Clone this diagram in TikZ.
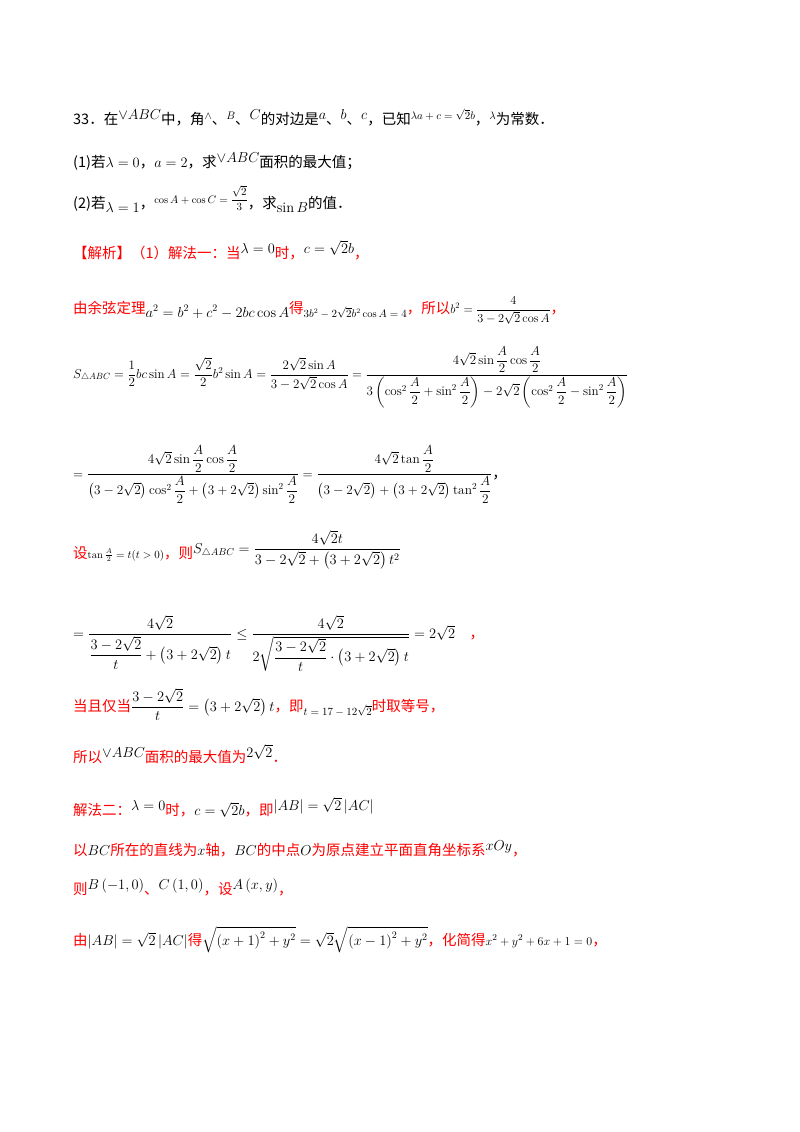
\documentclass[tikz,border=0pt]{standalone}
\usepackage{amsmath}
\usepackage{fontspec}
\newfontfamily\cjk{Noto Sans CJK SC}
\newcommand{\mm}[1]{{\color{black}$#1$}}
\newcommand{\sm}[1]{{\color{black}\fontsize{10.5}{12}\selectfont$#1$}}
\newcommand{\up}[1]{\raisebox{5pt}{#1}}
\newcommand{\dn}[1]{\raisebox{-4pt}{#1}}
\definecolor{rd}{RGB}{255,0,0}
\begin{document}
\begin{tikzpicture}[x=1pt,y=-1pt,
 t/.style={anchor=base west,inner sep=0pt,font=\cjk\fontsize{14.5}{17}\selectfont},
 r/.style={t,text=rd}]
\useasboundingbox (0,0) rectangle (800,1132);
\node[t] (l1) at (73,124) {33．在\up{\mm{\vee ABC}}中，角\up{\sm{\wedge}}、\up{\sm{B}}、\up{\mm{C}}的对边是\up{\mm{a}}、\up{\mm{b}}、\up{\mm{c}}，已知\up{\sm{\lambda a+c=\sqrt{2}b}}，\up{\sm{\lambda}}为常数．};
\node[t] (l2) at (73,167) {(1)若\mm{\lambda=0}，\mm{a=2}，求\up{\mm{\vee ABC}}面积的最大值；};
\node[t] (l3) at (73,208) {(2)若\dn{\mm{\lambda=1}}，\up{\sm{\cos A+\cos C=\dfrac{\sqrt{2}}{3}}}，求\dn{\mm{\sin B}}的值．};
\node[r] (l4) at (73,258) {【解析】（1）解法一：当\up{\mm{\lambda=0}}时，\up{\mm{c=\sqrt{2}b}}，};
\node[r] (l5) at (73,313) {由余弦定理\dn{\mm{a^2=b^2+c^2-2bc\cos A}}得\dn{\sm{3b^2-2\sqrt{2}b^2\cos A=4}}，所以\scalebox{0.85}{\mm{b^2=\dfrac{4}{3-2\sqrt{2}\cos A}}}，};
\node[t] (l6) at (73,378) {\scalebox{0.9}{\mm{S_{\triangle ABC}=\dfrac12 bc\sin A=\dfrac{\sqrt2}{2}b^2\sin A=\dfrac{2\sqrt2\sin A}{3-2\sqrt2\cos A}=\dfrac{4\sqrt2\sin\dfrac A2\cos\dfrac A2}{3\left(\cos^2\dfrac A2+\sin^2\dfrac A2\right)-2\sqrt2\left(\cos^2\dfrac A2-\sin^2\dfrac A2\right)}}}};
\node[t] (l7) at (73,478) {\scalebox{0.92}{\mm{=\dfrac{4\sqrt2\sin\dfrac A2\cos\dfrac A2}{\left(3-2\sqrt2\right)\cos^2\dfrac A2+\left(3+2\sqrt2\right)\sin^2\dfrac A2}=\dfrac{4\sqrt2\tan\dfrac A2}{\left(3-2\sqrt2\right)+\left(3+2\sqrt2\right)\tan^2\dfrac A2}}}，};
\node[r] (l8) at (73,558) {设\sm{\tan\frac A2=t(t>0)}，则\up{\mm{S_{\triangle ABC}=\dfrac{4\sqrt2 t}{3-2\sqrt2+\left(3+2\sqrt2\right)t^2}}}};
\node[r] (l9) at (73,638) {\mm{=\dfrac{4\sqrt2}{\dfrac{3-2\sqrt2}{t}+\left(3+2\sqrt2\right)t}\le\dfrac{4\sqrt2}{2\sqrt{\dfrac{3-2\sqrt2}{t}\cdot\left(3+2\sqrt2\right)t}}=2\sqrt2}\quad ，};
\node[r] (l10) at (73,711) {当且仅当\mm{\dfrac{3-2\sqrt2}{t}=\left(3+2\sqrt2\right)t}，即\dn{\sm{t=17-12\sqrt2}}时取等号，};
\node[r] (l11) at (73,762) {所以\up{\mm{\vee ABC}}面积的最大值为\up{\mm{2\sqrt2}}．};
\node[r] (l12) at (73,815) {解法二：\up{\mm{\lambda=0}}时，\mm{c=\sqrt2 b}，即\up{\mm{|AB|=\sqrt2\,|AC|}}};
\node[r] (l13) at (73,855) {以\mm{BC}所在的直线为\mm{x}轴，\mm{BC}的中点\mm{O}为原点建立平面直角坐标系\up{\mm{xOy}}，};
\node[r] (l14) at (73,894) {则\up{\mm{B\left(-1,0\right)}}、\up{\mm{C\left(1,0\right)}}，设\up{\mm{A\left(x,y\right)}}，};
\node[r] (l15) at (73,945) {由\mm{|AB|=\sqrt2\,|AC|}得\mm{\sqrt{\left(x+1\right)^2+y^2}=\sqrt2\sqrt{\left(x-1\right)^2+y^2}}，化简得{\color{black}\fontsize{12.5}{14}\selectfont$x^2+y^2+6x+1=0$}，};
\end{tikzpicture}
\end{document}
